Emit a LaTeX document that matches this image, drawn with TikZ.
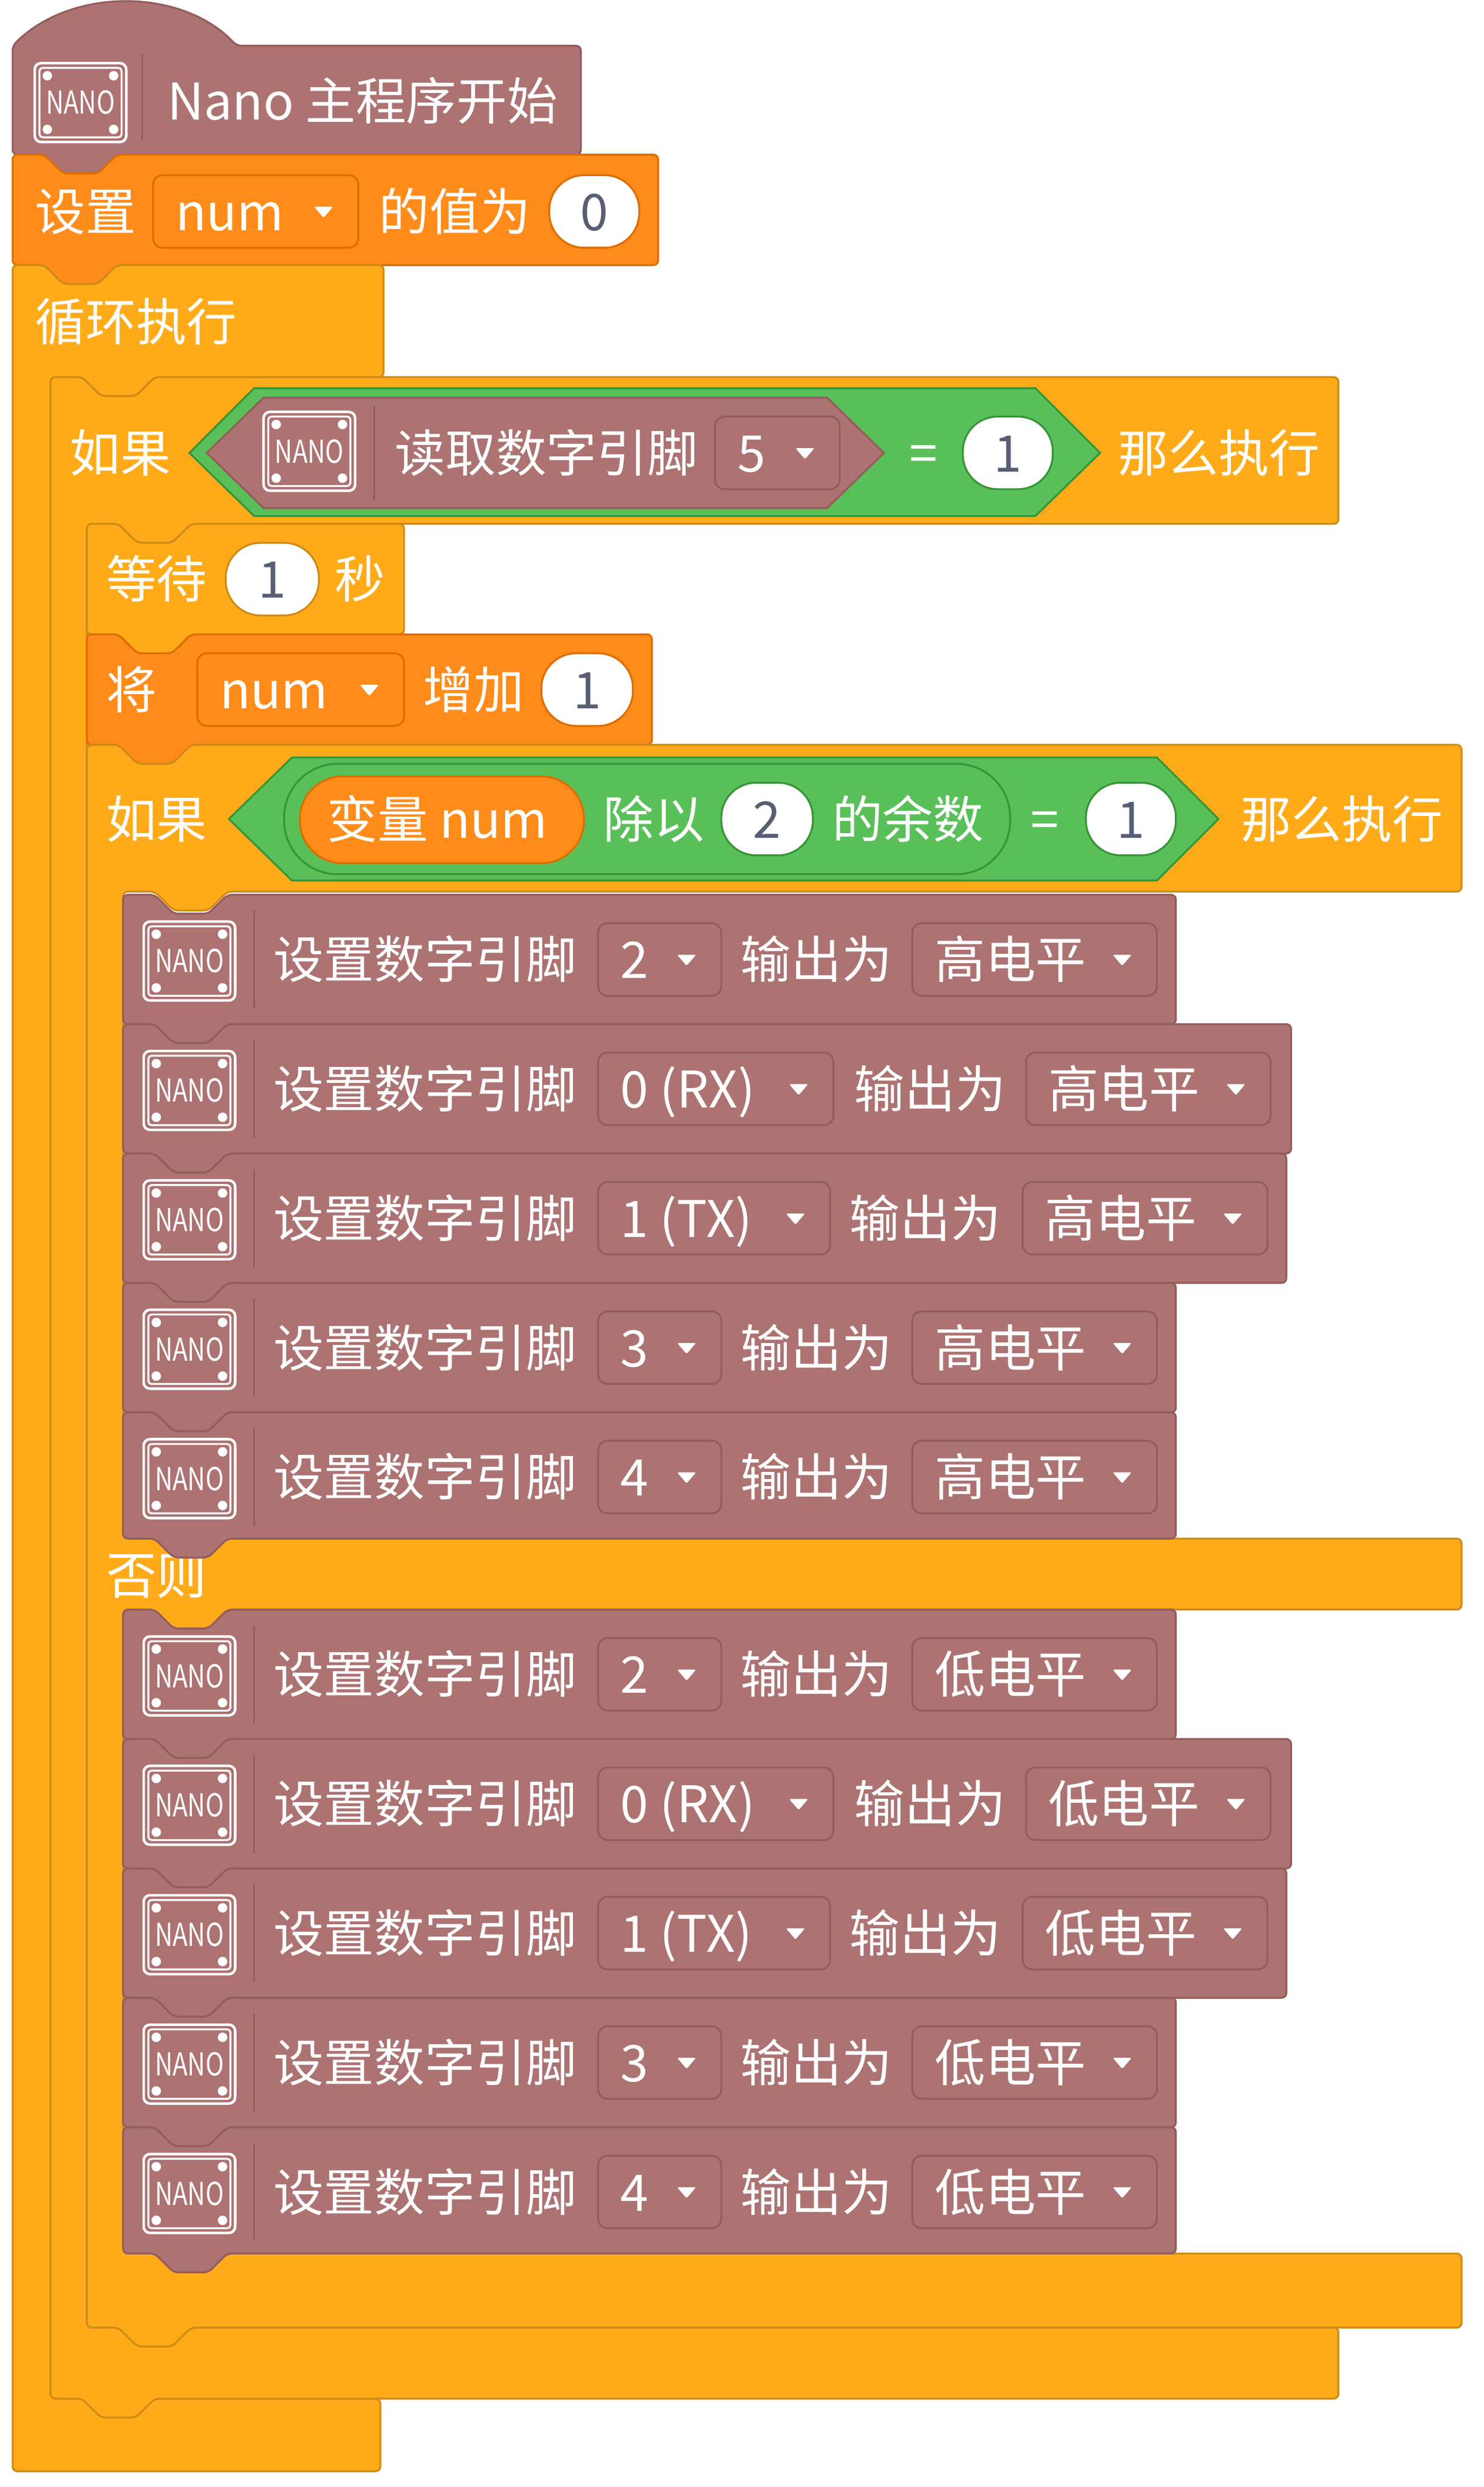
\documentclass[tikz,border=0pt]{standalone}
\usepackage{fontspec}
\setmainfont{Noto Sans CJK SC}
\definecolor{pinc}{HTML}{AD7272}
\definecolor{pinb}{HTML}{955C5C}
\definecolor{orc}{HTML}{FF8C1A}
\definecolor{orb}{HTML}{DB6E00}
\definecolor{yec}{HTML}{FFAB19}
\definecolor{yeb}{HTML}{CF8B17}
\definecolor{grc}{HTML}{59C059}
\definecolor{grb}{HTML}{389438}
\definecolor{ovt}{HTML}{575E75}
\newcommand\fs{\fontsize{32}{36}\selectfont}
\tikzset{
 blk/.style={rounded corners=3,line width=1.2},
 mauve/.style={blk,fill=pinc,draw=pinb},
 orng/.style={blk,fill=orc,draw=orb},
 yell/.style={blk,fill=yec,draw=yeb},
 txt/.style={text=white,inner sep=0,anchor=base west,font=\fs},
 otxt/.style={text=ovt,inner sep=0,anchor=base,font=\fs},
}
% statement block: x y w h style
\newcommand\stmt[5]{\path[#5] (#1,#2) -- ++(20,0) -- ++(12,12) -- ++(22,0) -- ++(12,-12) -- (#1+#3,#2) -- (#1+#3,#2+#4) -- (#1+66,#2+#4) -- ++(-12,12) -- ++(-22,0) -- ++(-12,-12) -- (#1,#2+#4) -- cycle;}
% dropdown: name x cy w text fill border
\newcommand\dd[7]{\draw[fill=#6,draw=#7,line width=1.2,rounded corners=6] (#2,#3-23) rectangle (#2+#4,#3+23);
 \node[txt] (#1) at (#2+14,#3+12) {#5};
 \fill[white,rounded corners=1] (#2+#4-28,#3-3) -- (#2+#4-16,#3-3) -- (#2+#4-22,#3+4) -- cycle;}
% oval: name x cy w text border
\newcommand\ovl[6]{\draw[fill=white,draw=#6,line width=1.2,rounded corners=22] (#2,#3-23) rectangle (#2+#4,#3+23);
 \node[otxt] (#1) at (#2+#4/2,#3+12) {#5};}
% nano icon: name x y(top)
\newcommand\nano[3]{\draw[white,line width=1.6,rounded corners=4] (#2,#3) rectangle (#2+58,#3+50);
 \draw[white,line width=1.2,rounded corners=2] (#2+3,#3+3) rectangle (#2+55,#3+47);
 \fill[white] (#2+8,#3+8) circle (3) (#2+50,#3+8) circle (3) (#2+8,#3+42) circle (3) (#2+50,#3+42) circle (3);
 \node[text=white,inner sep=0,font=\fontsize{20}{20}\selectfont,xscale=0.78] (#1) at (#2+29,#3+25) {NANO};}
\begin{document}
\begin{tikzpicture}[x=1pt,y=-1pt]
\useasboundingbox (0,0) rectangle (940,1576);
% hat
\path[mauve] (8,29) .. controls (45,-8) and (115,-8) .. (150,29) -- (368,29) -- (368,98) -- (74,98) -- ++(-12,12) -- ++(-22,0) -- ++(-12,-12) -- (8,98) -- cycle;
\nano{i0}{22}{40}
\draw[pinb,line width=1.2] (90,34) -- (90,88);
\node[txt] (t0) at (106,76) {Nano 主程序开始};
% set
\stmt{8}{98}{409}{70}{orng}
\node[txt] (t1) at (22,146) {设置};
\dd{d1}{97}{134}{130}{num}{orc}{orb}
\node[txt] (t2) at (240,146) {的值为};
\ovl{o1}{348}{134}{57}{0}{orb}
% loop
\path[yell] (8,168) -- ++(20,0) -- ++(12,12) -- ++(22,0) -- ++(12,-12) -- (243,168) -- (243,239) -- (98,239) -- ++(-12,12) -- ++(-22,0) -- ++(-12,-12) -- (32,239) -- (32,1520) -- (241,1520) -- (241,1566) -- (8,1566) -- cycle;
\node[txt] (t3) at (22,216) {循环执行};
% if 1
\path[yell] (32,239) -- ++(20,0) -- ++(12,12) -- ++(22,0) -- ++(12,-12) -- (848,239) -- (848,332) -- (121,332) -- ++(-12,12) -- ++(-22,0) -- ++(-12,-12) -- (55,332) -- (55,1475) -- (848,1475) -- (848,1520) -- (98,1520) -- ++(-12,12) -- ++(-22,0) -- ++(-12,-12) -- (32,1520) -- cycle;
\node[txt] (t4) at (44,299) {如果};
\path[fill=grc,draw=grb,line width=1.2] (120,287) -- (161,246) -- (656,246) -- (697,287) -- (656,327) -- (161,327) -- cycle;
\path[fill=pinc,draw=pinb,line width=1.2] (131,287) -- (167,252) -- (524,252) -- (560,287) -- (524,322) -- (167,322) -- cycle;
\nano{i1}{167}{261}
\draw[pinb,line width=1.2] (237,257) -- (237,317);
\node[txt] (t5) at (250,299) {读取数字引脚};
\dd{d2}{453}{287}{79}{5}{pinc}{pinb}
\node[txt] (t6) at (576,299) {=};
\ovl{o2}{610}{287}{57}{1}{grb}
\node[txt] (t7) at (708,299) {那么执行};
% wait
\stmt{55}{332}{201}{70}{yell}
\node[txt] (t8) at (67,379) {等待};
\ovl{o3}{143}{367}{59}{1}{yeb}
\node[txt] (t9) at (212,379) {秒};
% change
\stmt{55}{402}{358}{70}{orng}
\node[txt] (t10) at (67,449) {将};
\dd{d3}{125}{437}{131}{num}{orc}{orb}
\node[txt] (t11) at (268,449) {增加};
\ovl{o4}{343}{437}{58}{1}{orb}
% if-else
\path[yell] (55,472) -- ++(20,0) -- ++(12,12) -- ++(22,0) -- ++(12,-12) -- (926,472) -- (926,565) -- (144,565) -- ++(-12,12) -- ++(-22,0) -- ++(-12,-12) -- (78,565) -- (78,975) -- (926,975) -- (926,1020) -- (144,1020) -- ++(-12,12) -- ++(-22,0) -- ++(-12,-12) -- (78,1020) -- (78,1428) -- (926,1428) -- (926,1475) -- (121,1475) -- ++(-12,12) -- ++(-22,0) -- ++(-12,-12) -- (55,1475) -- cycle;
\node[txt] (t12) at (67,531) {如果};
\node[txt] (t13) at (67,1010) {否则};
\path[fill=grc,draw=grb,line width=1.2] (145,519) -- (185,480) -- (733,480) -- (772,519) -- (733,558) -- (185,558) -- cycle;
\draw[fill=grc,draw=grb,line width=1.2,rounded corners=34] (180,484) rectangle (640,554);
\draw[fill=orc,draw=orb,line width=1.2,rounded corners=27] (190,492) rectangle (370,547);
\node[txt] (t14) at (207,531) {变量 num};
\node[txt] (t15) at (382,531) {除以};
\ovl{o5}{457}{519}{58}{2}{grb}
\node[txt] (t16) at (527,531) {的余数};
\node[txt] (t17) at (653,531) {=};
\ovl{o6}{688}{519}{57}{1}{grb}
\node[txt] (t18) at (786,531) {那么执行};
% pin blocks
\foreach \k/\top/\pin/\ddw/\outx/\lvlx/\rx/\lvl in {
 a/567/2/78/469/578/745/高电平, b/649/0 (RX)/149/541/650/818/高电平, c/731/1 (TX)/147/538/648/815/高电平,
 d/813/3/78/469/578/745/高电平, e/895/4/78/469/578/745/高电平,
 f/1020/2/78/469/578/745/低电平, g/1102/0 (RX)/149/541/650/818/低电平, h/1184/1 (TX)/147/538/648/815/低电平,
 i/1266/3/78/469/578/745/低电平, j/1348/4/78/469/578/745/低电平}{
 \pgfmathsetmacro\hh{\top>1300 ? 80 : (\top>850 && \top<1000 ? 80 : 82)}
 \stmt{78}{\top}{\rx-78}{\hh}{mauve}
 \nano{ic\k}{91}{\top+17}
 \draw[pinb,line width=1.2] (161,\top+10) -- (161,\top+72);
 \node[txt] (ta\k) at (173,\top+53) {设置数字引脚};
 \dd{da\k}{379}{\top+41}{\ddw}{\pin}{pinc}{pinb}
 \node[txt] (tb\k) at (\outx,\top+53) {输出为};
 \dd{db\k}{\lvlx}{\top+41}{155}{\lvl}{pinc}{pinb}
}
\end{tikzpicture}
\end{document}
